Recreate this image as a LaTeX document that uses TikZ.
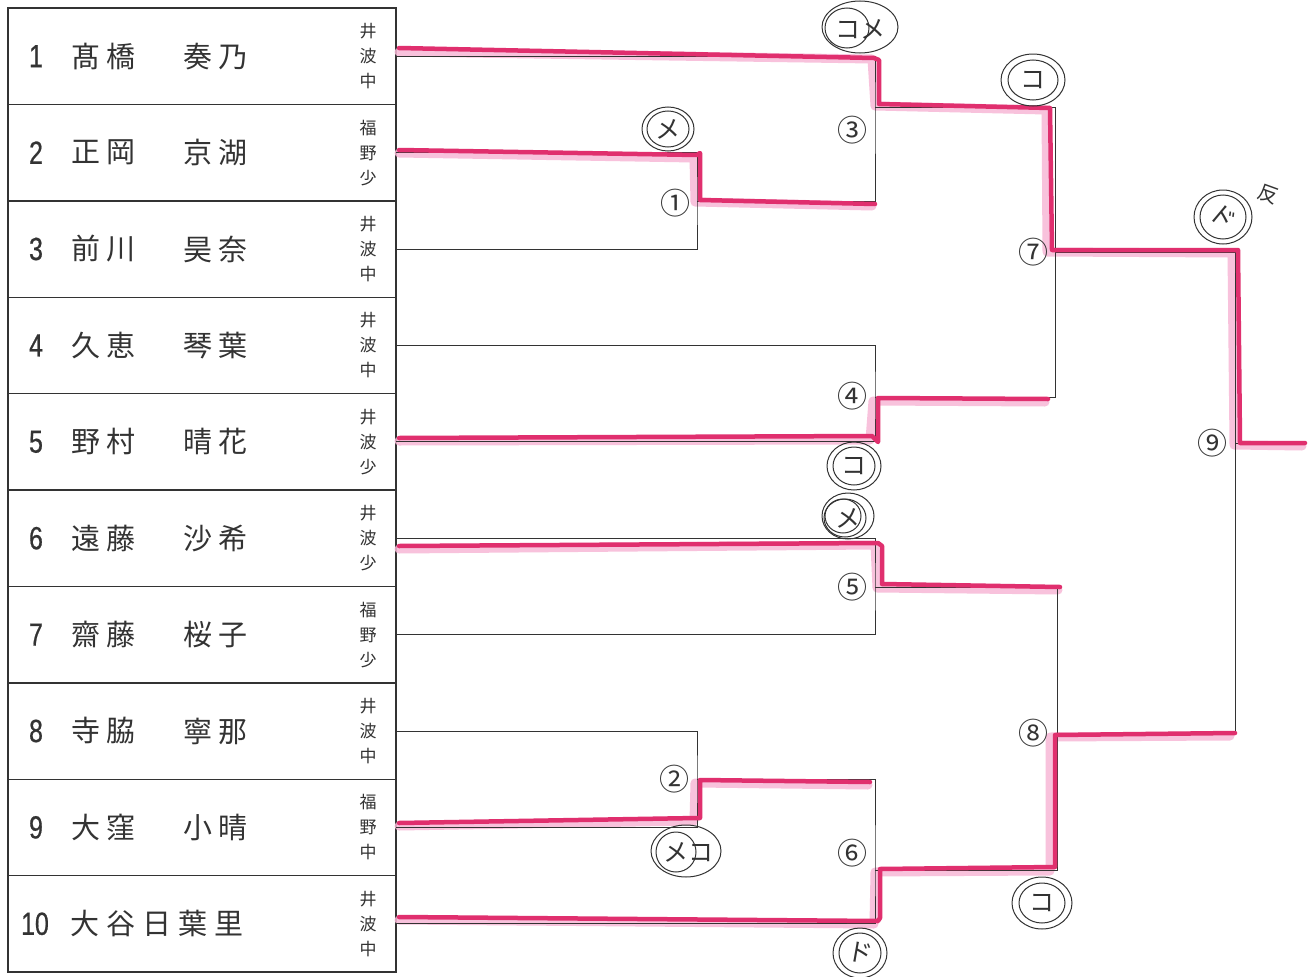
\documentclass[tikz,border=0pt]{standalone}
\usepackage{fontspec}
\newfontfamily\jp{Noto Sans CJK JP}
\newfontfamily\numf[FakeStretch=0.78,FakeBold=0.6]{Liberation Sans}
\usetikzlibrary{calc}
\definecolor{ink}{HTML}{333333}
\definecolor{winc}{HTML}{E02F6E}
\definecolor{winlt}{HTML}{F7B8D6}
\newcommand\kk{\hspace{6pt}}
\newcommand\kw{\hspace{7pt}}
\begin{document}
\begin{tikzpicture}[x=1pt,y=-1pt,
  rowbox/.style={draw=ink, line width=1.4pt, minimum width=388pt, minimum height=96.4pt, inner sep=0pt, outer sep=0pt, anchor=north west},
  numtxt/.style={font=\numf\fontsize{32}{32}\selectfont, text=ink, inner sep=0pt},
  nametxt/.style={font=\jp\fontsize{29}{29}\selectfont, text=ink, anchor=west, inner sep=0pt},
  schooltxt/.style={font=\jp\fontsize{17}{25}\selectfont, text=ink, align=center, inner sep=0pt},
  bline/.style={draw=ink, line width=1pt},
  winl/.style={draw=winc, line width=4.5pt, line cap=round, line join=round},
  winsh/.style={draw=winlt, line width=9pt, line cap=round, line join=round, opacity=0.85},
  cnum/.style={font=\jp\fontsize{30}{30}\selectfont, text=ink, inner sep=0pt},
  mtxt/.style={font=\jp\fontsize{25}{25}\selectfont, text=black!80, inner sep=0pt},
  mk/.style={draw=black!80, line width=1pt}
]
\useasboundingbox[fill=white] (0,0) rectangle (1310,977);

% ---- table rows ----
\foreach \i/\num/\fam/\giv/\sch in {
  1/1/髙\kk 橋/奏\kk 乃/井\\波\\中,
  2/2/正\kk 岡/京\kk 湖/福\\野\\少,
  3/3/前\kk 川/昊\kk 奈/井\\波\\中,
  4/4/久\kk 恵/琴\kk 葉/井\\波\\中,
  5/5/野\kk 村/晴\kk 花/井\\波\\少,
  6/6/遠\kk 藤/沙\kk 希/井\\波\\少,
  7/7/齋\kk 藤/桜\kk 子/福\\野\\少,
  8/8/寺\kk 脇/寧\kk 那/井\\波\\中,
  9/9/大\kk 窪/小\kk 晴/福\\野\\中}{
  \pgfmathsetmacro\ty{8+96.4*(\i-1)}
  \pgfmathsetmacro\cy{\ty+48.2}
  \node[rowbox] (r\i) at (8,\ty) {};
  \node[numtxt] (n\i) at (36,\cy) {\num};
  \node[nametxt] (f\i) at (71,\cy) {\fam};
  \node[nametxt] (g\i) at (183,\cy) {\giv};
  \node[schooltxt] (s\i) at (368,\cy) {\sch};
}
\node[rowbox] (r10) at (8,875.6) {};
\node[numtxt] (n10) at (35,923.8) {10};
\node[nametxt] (f10) at (70,923.8) {大\kw 谷\kw 日\kw 葉\kw 里};
\node[schooltxt] (s10) at (368,923.8) {井\\波\\中};

% ---- bracket coordinates ----
\coordinate (m1) at (697,201);
\coordinate (m2) at (697,779);
\coordinate (m3) at (875,107);
\coordinate (m4) at (875,397);
\coordinate (m5) at (875,587);
\coordinate (m6) at (875,870);
\coordinate (m7) at (1055,252);
\coordinate (m8) at (1057,733);
\coordinate (m9) at (1235,443);
\coordinate (fin) at (1305,443);

% ---- winner highlight shadows ----
\begin{scope}[winsh]
  \draw (399,52) -- (872,59) -- (875,106) -- (1046,110) -- (1047,252) -- (1232,253) -- (1234,445) -- (1302,446);
  \draw (399,153) -- (694,158) -- (695,202) -- (872,206);
  \draw (399,441) -- (870,440) -- (873,401) -- (1045,402);
  \draw (399,549) -- (875,545) -- (877,588) -- (1058,590);
  \draw (399,826) -- (694,821) -- (695,783) -- (868,785);
  \draw (399,920) -- (874,924) -- (875,872) -- (1050,871) -- (1050,737) -- (1230,736);
\end{scope}

% ---- black bracket lines ----
\draw[bline] (r2.east) -| (m1) |- (r3.east);
\draw[bline] (r8.east) -| (m2) |- (r9.east);
\draw[bline] (r1.east) -| (m3) |- (m1);
\draw[bline] (r4.east) -| (m4) |- (r5.east);
\draw[bline] (r6.east) -| (m5) |- (r7.east);
\draw[bline] (m2) -| (m6) |- (r10.east);
\draw[bline] (m3) -| (m7) |- (m4);
\draw[bline] (m5) -| (m8) |- (m6);
\draw[bline] (m7) -| (m9) |- (m8);
\draw[bline] (m9) -- (fin);

% ---- winner highlight lines ----
\begin{scope}[winl]
  \draw (399,48) -- (874,58) -- (879,60) -- (879,104) -- (1050,108) -- (1052,250) -- (1238,250) -- (1240,443) -- (1305,443);
  \draw (399,150) -- (697,155) -- (700,153) -- (700,200) -- (875,204);
  \draw (399,438) -- (872,436) -- (878,442) -- (878,398) -- (1048,399);
  \draw (399,546) -- (878,543) -- (882,546) -- (882,584) -- (1060,587);
  \draw (399,823) -- (697,818) -- (700,818) -- (700,780) -- (870,782);
  \draw (399,917) -- (878,921) -- (880,918) -- (880,869) -- (1055,867) -- (1055,735) -- (1235,733);
\end{scope}

% ---- match numbers ----
\node[cnum] (c1) at (675,203) {①};
\node[cnum] (c2) at (674,779) {②};
\node[cnum] (c3) at (852,130) {③};
\node[cnum] (c4) at (852,396) {④};
\node[cnum] (c5) at (852,587) {⑤};
\node[cnum] (c6) at (852,853) {⑥};
\node[cnum] (c7) at (1033,252) {⑦};
\node[cnum] (c8) at (1033,733) {⑧};
\node[cnum] (c9) at (1212,443) {⑨};

% ---- hand-written marks ----
\node[mtxt] (k1) at (860,29) {コメ};
\draw[mk] (860,27) ellipse [x radius=38, y radius=26];
\draw[mk] (847,28) ellipse [x radius=22, y radius=20];

\node[mtxt] (k2) at (668,129) {メ};
\draw[mk] (k2) ellipse [x radius=26, y radius=22];
\draw[mk] (k2) ellipse [x radius=21, y radius=18];

\node[mtxt] (k3) at (1033,80) {コ};
\draw[mk] (k3) ellipse [x radius=32, y radius=26];
\draw[mk] (k3) ellipse [x radius=25, y radius=20];

\node[mtxt, rotate=-40] (k4) at (1223,217) {ド};
\draw[mk] (k4) ellipse [x radius=29, y radius=27];
\draw[mk] (k4) ellipse [x radius=23, y radius=22];
\node[font=\jp\fontsize{20}{20}\selectfont, text=black!80, rotate=-20, inner sep=0pt] (k4b) at (1268,194) {反};

\node[mtxt] (k5) at (854,466) {コ};
\draw[mk] (k5) ellipse [x radius=27, y radius=24];
\draw[mk] (k5) ellipse [x radius=21, y radius=19];

\node[mtxt] (k6) at (848,518) {メ};
\draw[mk] (848,516) ellipse [x radius=26, y radius=23];
\draw[mk] (845,518) ellipse [x radius=21, y radius=19];
\draw[mk] (843,516) ellipse [x radius=18, y radius=17];

\node[mtxt] (k7) at (688,852) {メコ};
\draw[mk] (686,851) ellipse [x radius=35, y radius=26];
\draw[mk] (676,852) ellipse [x radius=20, y radius=20];

\node[mtxt] (k8) at (1042,903) {コ};
\draw[mk] (k8) ellipse [x radius=30, y radius=26];
\draw[mk] (k8) ellipse [x radius=23, y radius=20];

\node[mtxt, rotate=-10] (k9) at (860,953) {ド};
\draw[mk] (k9) ellipse [x radius=27, y radius=25];
\draw[mk] (k9) ellipse [x radius=21, y radius=20];
\end{tikzpicture}
\end{document}
